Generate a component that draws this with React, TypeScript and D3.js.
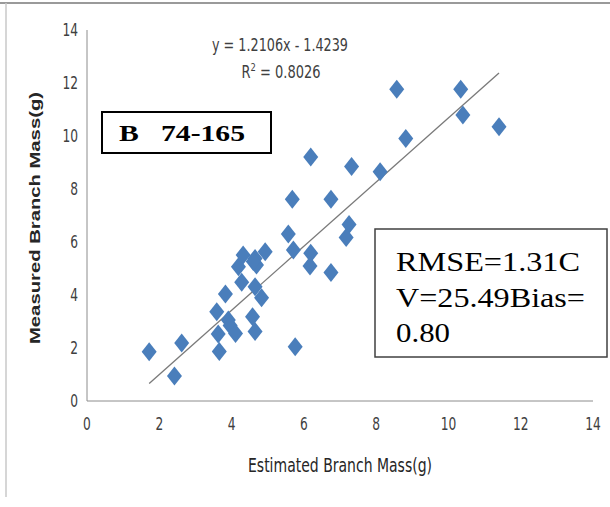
import React, { useEffect, useRef } from 'react';
import * as d3 from 'd3';

// estimated vs measured branch mass
const estimated = [
  1.72, 2.42, 2.62, 3.59, 3.63, 3.66, 3.83, 3.91, 3.96, 4.11,
  4.28, 4.19, 4.32, 4.65, 4.69, 4.93, 4.6, 4.65, 4.83, 4.58,
  4.65, 5.76, 5.57, 5.71, 6.19, 6.17, 6.75, 7.25, 7.17, 6.19,
  7.32, 5.68, 6.75, 8.11, 8.82, 8.57, 10.34, 10.4, 11.4
];
const measured = [
  1.86, 0.94, 2.19, 3.37, 2.53, 1.87, 4.04, 3.06, 2.85, 2.55,
  4.48, 5.07, 5.51, 5.38, 5.13, 5.63, 5.26, 4.31, 3.9, 3.18,
  2.62, 2.05, 6.3, 5.7, 5.58, 5.09, 4.85, 6.66, 6.17, 9.21,
  8.85, 7.61, 7.61, 8.65, 9.91, 11.76, 11.76, 10.79, 10.35
];
const xTicks = [0, 2, 4, 6, 8, 10, 12, 14];
const yTicks = [0, 2, 4, 6, 8, 10, 12, 14];
const slope = 1.2106;
const intercept = -1.4239;
const statsLines = ['RMSE=1.31C', 'V=25.49Bias=', '0.80'];

const App: React.FC = () => {
  const svgRef = useRef<SVGSVGElement>(null);

  useEffect(() => {
    if (!svgRef.current) return;
    const svg = d3.select(svgRef.current);
    svg.selectAll('*').remove();

    const narrow = "'DejaVu Sans Condensed', 'DejaVu Sans', sans-serif";
    const serif = "'Liberation Serif', 'Times New Roman', serif";
    const x = d3.scaleLinear().domain([0, 14]).range([87, 593]);
    const y = d3.scaleLinear().domain([0, 14]).range([401, 30]);

    // frame
    svg.append('line').attr('x1', 0).attr('x2', 610).attr('y1', 3).attr('y2', 3)
      .attr('stroke', '#9a9a9a').attr('stroke-width', 2);
    svg.append('line').attr('x1', 6).attr('x2', 6).attr('y1', 3).attr('y2', 497)
      .attr('stroke', '#c8c8c8').attr('stroke-width', 1.5);

    // axes lines
    svg.append('line').attr('x1', x(0)).attr('x2', x(0)).attr('y1', y(14)).attr('y2', y(0))
      .attr('stroke', '#8c8c8c').attr('stroke-width', 1);
    svg.append('line').attr('x1', x(0)).attr('x2', x(14)).attr('y1', y(0)).attr('y2', y(0))
      .attr('stroke', '#8c8c8c').attr('stroke-width', 1);

    // tick labels, squeezed horizontally like Calibri
    svg.append('g').selectAll('text').data(yTicks).join('text')
      .attr('transform', d => `translate(78,${y(d) + 6}) scale(0.8,1)`)
      .attr('text-anchor', 'end')
      .style('font-family', narrow).style('font-size', '17px').style('fill', '#404040')
      .text(d => d);

    svg.append('g').selectAll('text').data(xTicks).join('text')
      .attr('transform', d => `translate(${x(d)},430) scale(0.8,1)`)
      .attr('text-anchor', 'middle')
      .style('font-family', narrow).style('font-size', '17px').style('fill', '#404040')
      .text(d => d);

    // axis titles
    svg.append('text')
      .attr('transform', 'translate(40,218) rotate(-90)')
      .attr('text-anchor', 'middle')
      .attr('textLength', 252).attr('lengthAdjust', 'spacingAndGlyphs')
      .style('font-family', 'Arial, sans-serif').style('font-weight', 'bold')
      .style('font-size', '14px').style('fill', '#262626')
      .text('Measured Branch Mass(g)');

    svg.append('text')
      .attr('x', 340).attr('y', 472)
      .attr('text-anchor', 'middle')
      .attr('textLength', 184).attr('lengthAdjust', 'spacingAndGlyphs')
      .style('font-family', narrow).style('font-size', '19px').style('fill', '#262626')
      .text('Estimated Branch Mass(g)');

    // trendline
    const [x0, x1] = d3.extent(estimated) as [number, number];
    svg.append('line')
      .attr('x1', x(x0)).attr('y1', y(slope * x0 + intercept))
      .attr('x2', x(x1)).attr('y2', y(slope * x1 + intercept))
      .attr('stroke', '#7a7a7a').attr('stroke-width', 1.3);

    // points
    const pts = estimated.map((e, i) => [e, measured[i]]);
    svg.append('g').selectAll('path').data(pts).join('path')
      .attr('transform', d => `translate(${x(d[0])},${y(d[1])})`)
      .attr('d', 'M0,-9.5L7.5,0L0,9.5L-7.5,0Z')
      .attr('fill', '#4a7ebb');

    // equation
    svg.append('text')
      .attr('x', 280).attr('y', 51).attr('text-anchor', 'middle')
      .attr('textLength', 136).attr('lengthAdjust', 'spacingAndGlyphs')
      .style('font-family', narrow).style('font-size', '17px').style('fill', '#404040')
      .text(`y = ${slope}x - ${Math.abs(intercept)}`);
    const r2 = svg.append('text')
      .attr('transform', 'translate(281,78) scale(0.85,1)')
      .attr('text-anchor', 'middle')
      .style('font-family', narrow).style('font-size', '17px').style('fill', '#404040');
    r2.append('tspan').text('R');
    r2.append('tspan').attr('dy', -7).style('font-size', '11px').text('2');
    r2.append('tspan').attr('dy', 7).text(' = 0.8026');

    // label box
    svg.append('rect').attr('x', 102).attr('y', 112).attr('width', 169).attr('height', 41)
      .attr('fill', '#fff').attr('stroke', '#000').attr('stroke-width', 2);
    svg.append('text').attr('x', 119).attr('y', 141)
      .attr('textLength', 126).attr('lengthAdjust', 'spacingAndGlyphs')
      .style('font-family', serif)
      .style('font-weight', 'bold').style('font-size', '24px')
      .style('white-space', 'pre')
      .text('B   74-165');

    // stats box
    svg.append('rect').attr('x', 375).attr('y', 229).attr('width', 232).attr('height', 128)
      .attr('fill', '#fff').attr('stroke', '#404040').attr('stroke-width', 1.5);
    const widths = [184, 189, 54];
    svg.append('g').selectAll('text').data(statsLines).join('text')
      .attr('x', 396).attr('y', (d, i) => 271 + i * 35.5)
      .attr('textLength', (d, i) => widths[i]).attr('lengthAdjust', 'spacingAndGlyphs')
      .style('font-family', serif)
      .style('font-size', '28px').style('fill', '#000')
      .text(d => d);
  }, []);

  return (
    <svg ref={svgRef} width={610} height={507}
      style={{ position: 'absolute', left: 0, top: 0, background: '#fff' }} />
  );
};

export default App;
